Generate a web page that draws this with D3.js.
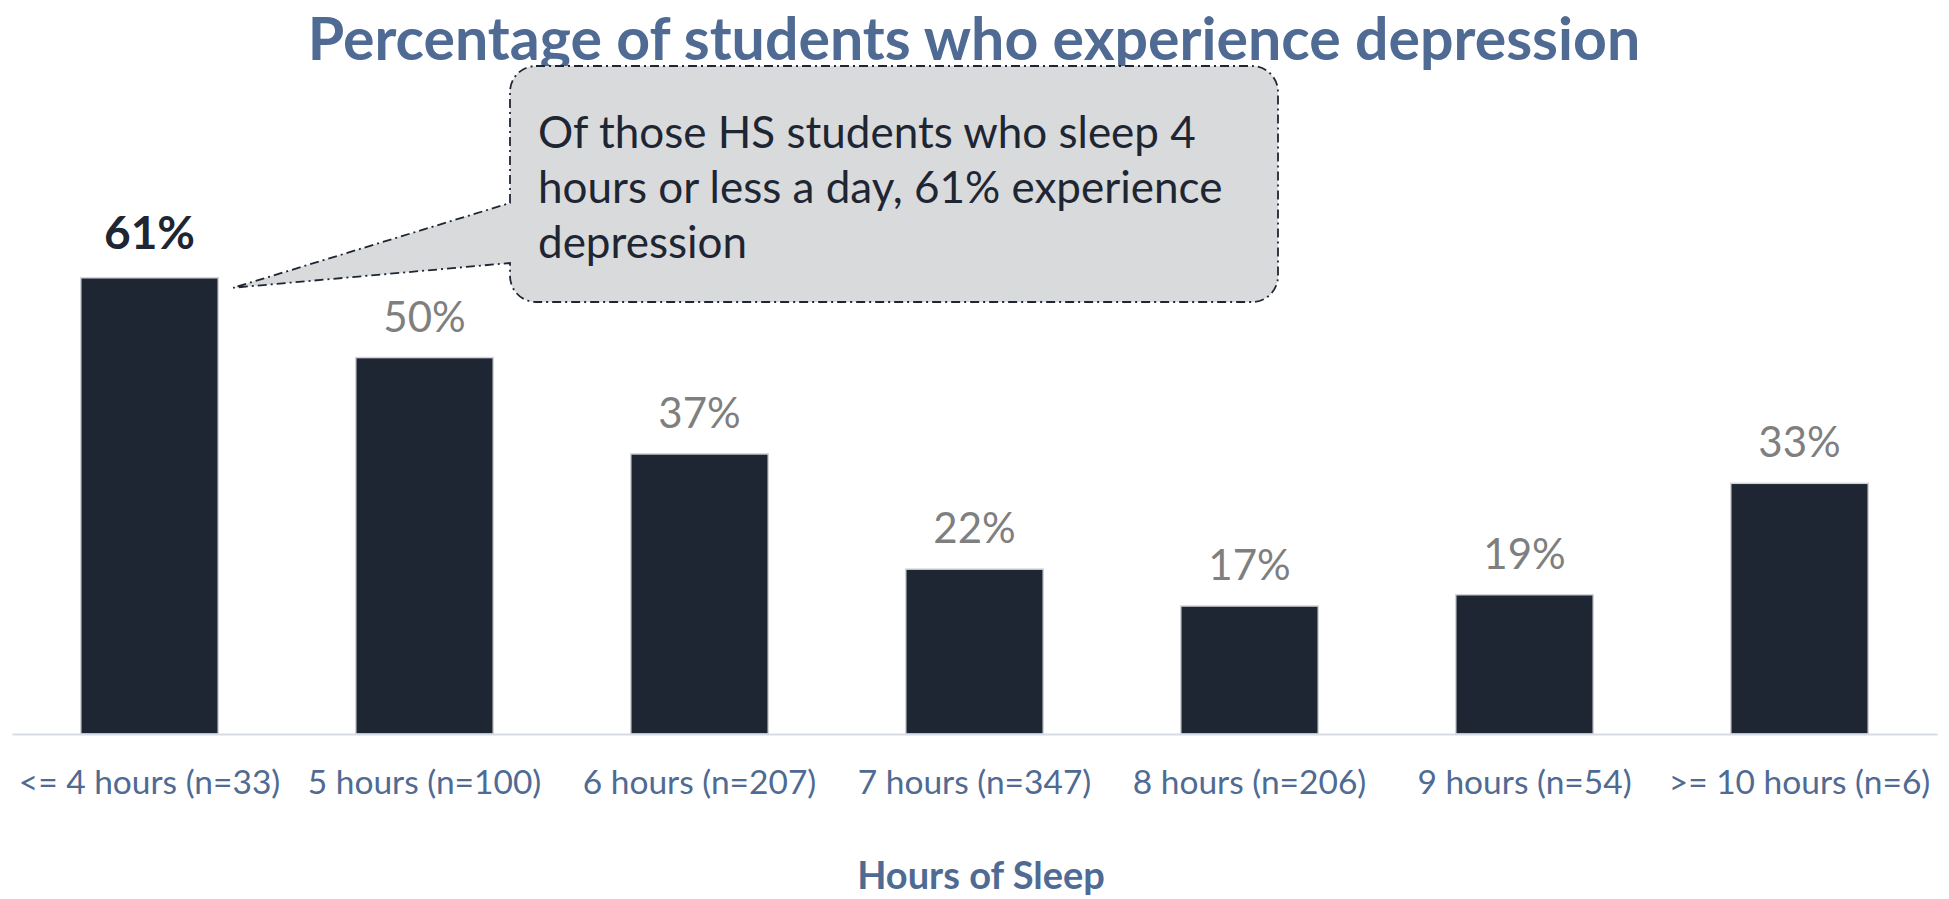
<!DOCTYPE html>
<html>
<head>
  <meta charset="utf-8">
  <style>
    body { margin: 0; background: #fff; }
    svg { display: block; font-family: Lato, "Open Sans", sans-serif; }
    .axisHorizontal path { stroke: #d6dce5; stroke-width: 2; }
    .axisHorizontal line { display: none; }
  </style>
</head>
<body>
  <svg width="1949" height="899"></svg>
  <script src="https://d3js.org/d3.v7.min.js"></script>
  <script>

    var categories = ["<= 4 hours (n=33)", "5 hours (n=100)", "6 hours (n=207)", "7 hours (n=347)",
                      "8 hours (n=206)", "9 hours (n=54)", ">= 10 hours (n=6)"];
    var values = [60.6, 50.0, 37.2, 21.9, 17.0, 18.5, 33.3];
    var valueLabels = ["61%", "50%", "37%", "22%", "17%", "19%", "33%"];
    var highlight = 0;
    var title = "Percentage of students who experience depression";
    var axisTitle = "Hours of Sleep";
    var calloutLines = ["Of those HS students who sleep 4",
                        "hours or less a day, 61% experience",
                        "depression"];

    var svg = d3.select("svg");
    var navy = "#1e2633", slate = "#4f6a93";

    var x = d3.scaleBand()
      .domain(categories)
      .range([12, 1937])
      .paddingInner(0.5)
      .paddingOuter(0.25);

    var y = d3.scaleLinear()
      .domain([0, 70])
      .range([734, 207]);

    // title
    svg.append("text")
      .attr("x", 974)
      .attr("y", 60)
      .attr("text-anchor", "middle")
      .attr("font-weight", "bold")
      .attr("font-size", 59)
      .attr("fill", slate)
      .text(title);

    // bars
    svg.append("g")
      .selectAll("rect")
      .data(values)
      .enter().append("rect")
      .attr("x", function(d, i) { return x(categories[i]); })
      .attr("y", function(d) { return y(d); })
      .attr("width", x.bandwidth())
      .attr("height", function(d) { return y(0) - y(d); })
      .attr("fill", navy)
      .attr("stroke", "#d2d4d8")
      .attr("stroke-width", 1.5);

    // value labels
    svg.append("g")
      .selectAll("text")
      .data(values)
      .enter().append("text")
      .attr("x", function(d, i) { return x(categories[i]) + x.bandwidth() / 2; })
      .attr("y", function(d, i) { return y(d) - (i === highlight ? 29 : 26); })
      .attr("text-anchor", "middle")
      .attr("font-size", function(d, i) { return i === highlight ? 46 : 42; })
      .attr("font-weight", function(d, i) { return i === highlight ? "bold" : "normal"; })
      .attr("fill", function(d, i) { return i === highlight ? navy : "#7f7f7f"; })
      .text(function(d, i) { return valueLabels[i]; });

    // x axis
    var xAxis = svg.append("g")
      .attr("class", "axisHorizontal")
      .attr("transform", "translate(0," + y(0) + ")")
      .call(d3.axisBottom(x).tickSize(0).tickSizeOuter(0));

    xAxis.selectAll("text")
      .attr("y", 60)
      .attr("dy", 0)
      .attr("font-family", "Lato, sans-serif")
      .attr("font-size", 33.5)
      .attr("fill", slate);

    svg.append("text")
      .attr("x", 981)
      .attr("y", 889)
      .attr("text-anchor", "middle")
      .attr("font-weight", "bold")
      .attr("font-size", 38)
      .attr("fill", slate)
      .text(axisTitle);

    // callout with pointer towards the first bar
    var bx0 = 510, bx1 = 1278, by0 = 66, by1 = 302, r = 26;
    var tipX = x(categories[highlight]) + x.bandwidth() + 15,
        tipY = y(values[highlight]) + 10;

    var p = d3.path();
    p.moveTo(bx0 + r, by0);
    p.lineTo(bx1 - r, by0);
    p.arcTo(bx1, by0, bx1, by0 + r, r);
    p.lineTo(bx1, by1 - r);
    p.arcTo(bx1, by1, bx1 - r, by1, r);
    p.lineTo(bx0 + r, by1);
    p.arcTo(bx0, by1, bx0, by1 - r, r);
    p.lineTo(bx0, 263);
    p.lineTo(tipX, tipY);
    p.lineTo(bx0, 203);
    p.lineTo(bx0, by0 + r);
    p.arcTo(bx0, by0, bx0 + r, by0, r);
    p.closePath();

    svg.append("path")
      .attr("d", p.toString())
      .attr("fill", "#d9dadc")
      .attr("stroke", "#1e2633")
      .attr("stroke-width", 1.8)
      .attr("stroke-dasharray", "9,4,2,4");

    svg.append("g")
      .selectAll("text")
      .data(calloutLines)
      .enter().append("text")
      .attr("x", 538)
      .attr("y", function(d, i) { return 148 + i * 55; })
      .attr("font-size", 44)
      .attr("fill", navy)
      .text(function(d) { return d; });

  </script>
</body>
</html>
